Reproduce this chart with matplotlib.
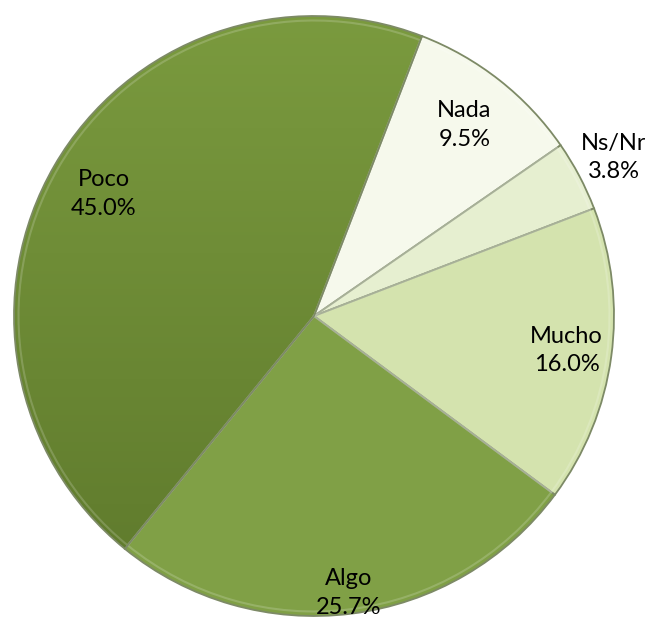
import numpy as np
import matplotlib
matplotlib.use('Agg')
import matplotlib.pyplot as plt
from matplotlib.colors import LinearSegmentedColormap

plt.rcParams['font.family'] = ['Lato', 'DejaVu Sans']

# datos
labels = ['Nada', 'Ns/Nr', 'Mucho', 'Algo', 'Poco']
values = [9.5, 3.8, 16.0, 25.7, 45.0]
colors = ['#f6f9ec', '#e6efd0', '#d4e3ae', '#80a046', '#6e8c36']
label_dist = [0.81, 1.13, 0.85, 0.93, 0.81]  # distancia de cada etiqueta

fig = plt.figure(figsize=(6.45, 6.17), dpi=100)
ax = fig.add_axes([0, 0, 1, 1])

wedges, _ = ax.pie(values, colors=colors, startangle=68.9, counterclock=False,
                   radius=1.0, wedgeprops=dict(edgecolor='#7d8a66', linewidth=1.3))

# degradado en "Poco"
poco = wedges[4]
grad = np.linspace(0, 1, 256).reshape(-1, 1)
cmap = LinearSegmentedColormap.from_list('p', ['#5d782b', '#7b9b3f'])
im = ax.imshow(grad, cmap=cmap, extent=[-1.1, 1.1, -1.05, 1.05], origin='lower',
               aspect='auto', zorder=1)
im.set_clip_path(poco)
poco.set_facecolor('none')
poco.set_zorder(2)

# bisel claro (sutil)
ax.pie(values, colors=['none'] * 5, startangle=68.9, counterclock=False, radius=0.985,
       wedgeprops=dict(edgecolor='white', linewidth=1.5, alpha=0.18))

for w, lab, v, d in zip(wedges, labels, values, label_dist):
    ang = np.deg2rad((w.theta1 + w.theta2) / 2)
    ax.text(d * np.cos(ang), d * np.sin(ang), '%s\n%.1f%%' % (lab, v),
            ha='center', va='center', fontsize=17, color='black',
            linespacing=1.45, zorder=5)

ax.set_xlim(-314 / 300, 331 / 300)
ax.set_ylim(-301 / 300, 316 / 300)
ax.set_aspect('auto')
ax.axis('off')

fig.savefig('out.png', dpi=100, facecolor='white')
